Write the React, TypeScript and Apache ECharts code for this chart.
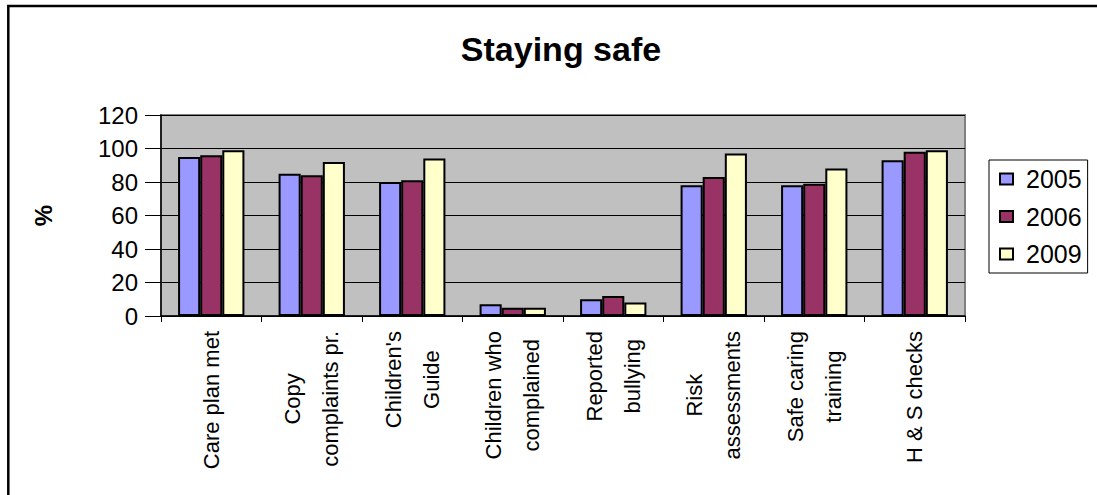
import React, { useEffect, useRef } from "react";
import * as echarts from "echarts";

const categories = [
  "Care plan met",
  "Copy\ncomplaints pr.",
  "Children's\nGuide",
  "Children who\ncomplained",
  "Reported\nbullying",
  "Risk\nassessments",
  "Safe caring\ntraining",
  "H & S checks",
];
const seriesNames = ["2005", "2006", "2009"];
const values2005 = [95, 85, 80, 7, 10, 78, 78, 93];
const values2006 = [96, 84, 81, 5, 12, 83, 79, 98];
const values2009 = [99, 92, 94, 5, 8, 97, 88, 99];
const colors = ["#9999FF", "#993366", "#FFFFCC"];
const yTicks = { min: 0, max: 120, interval: 20 };

export default function App() {
  const ref = useRef<HTMLDivElement>(null);
  useEffect(() => {
    if (!ref.current) return;
    const chart = echarts.init(ref.current, undefined, { renderer: "svg" });
    const font = "Liberation Sans, Arial, sans-serif";
    const labelSize = 22;
    const allValues = [values2005, values2006, values2009];
    chart.setOption({
      animation: false,
      backgroundColor: "#ffffff",
      title: {
        text: "Staying safe",
        left: 556,
        top: 27,
        textAlign: "center",
        textStyle: { fontFamily: font, fontWeight: "bold", fontSize: 34, color: "#000" },
      },
      graphic: [
        {
          type: "rect",
          shape: { x: 8.3, y: 6, width: 1300, height: 700 },
          style: { fill: "none", stroke: "#000", lineWidth: 2.5 },
          silent: true,
        },
      ],
      legend: {
        orient: "vertical",
        left: 989,
        top: 160,
        width: 107,
        data: seriesNames,
        itemWidth: 13,
        itemHeight: 11,
        itemGap: 11.5,
        padding: [6, 6, 6, 10],
        borderColor: "#000",
        borderWidth: 1,
        icon: "rect",
        textStyle: {
          fontFamily: font,
          fontSize: 25,
          color: "#000",
          lineHeight: 26,
          padding: [0, 0, 0, 8],
        },
      },
      grid: {
        left: 161,
        top: 115,
        right: 132,
        bottom: 179,
        show: true,
        backgroundColor: "#C0C0C0",
        borderColor: "#808080",
        borderWidth: 2,
        containLabel: false,
      },
      xAxis: {
        type: "category",
        data: categories,
        boundaryGap: true,
        axisLine: { show: true, lineStyle: { color: "#000", width: 1.5 } },
        axisTick: { show: true, length: 6, lineStyle: { color: "#000" } },
        axisLabel: {
          rotate: 90,
          margin: 15,
          interval: 0,
          formatter: (v: string) =>
            v
              .split("\n")
              .map((l) => "{c|" + l + "}")
              .join("\n"),
          rich: {
            c: {
              align: "center",
              fontFamily: font,
              fontSize: labelSize,
              color: "#000",
              lineHeight: 38,
            },
          },
        },
      },
      yAxis: {
        type: "value",
        min: yTicks.min,
        max: yTicks.max,
        interval: yTicks.interval,
        name: "%",
        nameLocation: "middle",
        nameRotate: 90,
        nameGap: 106,
        nameTextStyle: { fontFamily: font, fontWeight: "bold", fontSize: 24, color: "#000" },
        axisLine: { show: true, lineStyle: { color: "#000", width: 1.5 } },
        axisTick: { show: true, length: 16, lineStyle: { color: "#000" } },
        axisLabel: { margin: 23, fontFamily: font, fontSize: 24, color: "#000" },
        splitLine: { show: true, lineStyle: { color: "#000", width: 1 } },
      },
      series: seriesNames.map((name, i) => ({
        name,
        type: "bar",
        data: allValues[i],
        barGap: "0%",
        barCategoryGap: "34%",
        itemStyle: { color: colors[i], borderColor: "#000", borderWidth: 2 },
      })),
    });
    return () => chart.dispose();
  }, []);
  return (
    <div
      ref={ref}
      style={{ position: "fixed", left: 0, top: 0, width: 1097, height: 495 }}
    />
  );
}
